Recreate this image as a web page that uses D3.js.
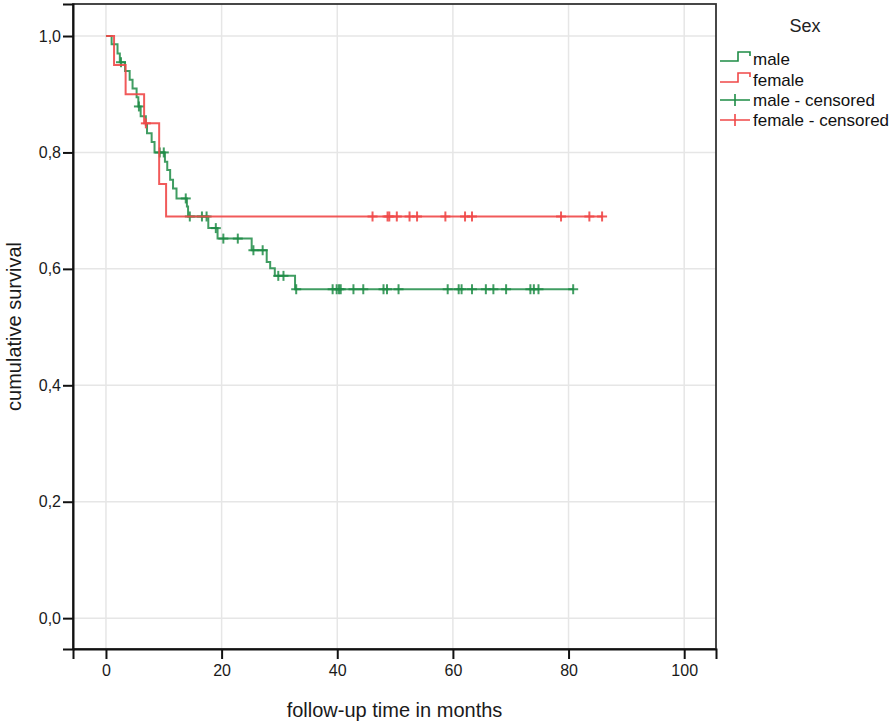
<!DOCTYPE html>
<html>
<head>
<meta charset="utf-8">
<script src="https://cdn.jsdelivr.net/npm/d3@7"></script>
<style>
  body { margin: 0; background: #fff; }
  svg { font-family: "Liberation Sans", Arial, sans-serif; }
</style>
</head>
<body>
<svg id="chart" width="894" height="724"></svg>
<script>
// Kaplan-Meier steps: time (months) and survival after each drop
const maleTimes = [0, 0.98, 2.0, 2.4, 3.3, 4.1, 4.6, 5.3, 5.6, 6.0, 6.9, 7.1, 7.9, 8.4,
  10.2, 10.6, 11.1, 11.6, 12.2, 14.0, 14.2, 17.7, 19.3, 25.2, 27.8, 28.4, 29.2, 32.7];
const maleSurv = [1, 0.986, 0.970, 0.955, 0.940, 0.925, 0.910, 0.895, 0.879, 0.862, 0.847, 0.833, 0.818, 0.800,
  0.784, 0.770, 0.753, 0.738, 0.721, 0.707, 0.690, 0.670, 0.652, 0.632, 0.612, 0.601, 0.588, 0.565];
const maleEnd = 80.8;
const maleCensored = [2.6, 5.7, 9.3, 10.0, 13.8, 14.5, 16.6, 17.4, 19.0, 20.3, 22.8, 25.5, 27.1,
  29.8, 30.7, 32.9, 39.2, 39.9, 40.3, 40.6, 42.8, 44.5, 48.0, 48.6, 50.6, 59.1, 61.0, 61.5,
  63.3, 65.7, 67.0, 69.2, 73.4, 74.0, 74.8, 80.8];

const femaleTimes = [0, 1.4, 3.4, 6.6, 9.2, 10.4];
const femaleSurv = [1, 0.95, 0.90, 0.85, 0.746, 0.690];
const femaleEnd = 85.8;
const femaleCensored = [6.9, 46.1, 48.7, 49.0, 50.3, 52.5, 53.8, 58.7, 62.1, 63.3, 78.7, 83.6, 85.8];

const xTicks = [0, 20, 40, 60, 80, 100];
const yTicks = [0, 0.2, 0.4, 0.6, 0.8, 1.0];
const legendLabels = ['male', 'female', 'male - censored', 'female - censored'];

const green = '#1e8c46';
const red = '#f04848';

const svg = d3.select('#chart');
const plot = { left: 73, right: 716, top: 4, bottom: 649 };

const xScale = d3.scaleLinear().domain([-5.7, 105.5]).range([plot.left, plot.right]);
const yScale = d3.scaleLinear().domain([-0.053, 1.055]).range([plot.bottom, plot.top]);

// gridlines
svg.append('g')
  .selectAll('line.vg')
  .data(xTicks)
  .join('line')
  .attr('x1', d => xScale(d)).attr('x2', d => xScale(d))
  .attr('y1', plot.top).attr('y2', plot.bottom)
  .attr('stroke', '#e6e6e6').attr('stroke-width', 1.5);
svg.append('g')
  .selectAll('line.hg')
  .data(yTicks)
  .join('line')
  .attr('x1', plot.left).attr('x2', plot.right)
  .attr('y1', d => yScale(d)).attr('y2', d => yScale(d))
  .attr('stroke', '#e6e6e6').attr('stroke-width', 1.5);

// frame
svg.append('rect')
  .attr('x', plot.left).attr('y', plot.top)
  .attr('width', plot.right - plot.left).attr('height', plot.bottom - plot.top)
  .attr('fill', 'none').attr('stroke', '#333').attr('stroke-width', 1.8);

const fmt = d => d3.format('.1f')(d).replace('.', ',');

const xAxis = svg.append('g')
  .attr('transform', `translate(0, ${plot.bottom})`)
  .call(d3.axisBottom(xScale).tickValues(xTicks).tickSize(10).tickPadding(6));
const yAxis = svg.append('g')
  .attr('transform', `translate(${plot.left}, 0)`)
  .call(d3.axisLeft(yScale).tickValues(yTicks).tickFormat(fmt).tickSize(10).tickPadding(2));

[xAxis, yAxis].forEach(ax => {
  ax.select('.domain').attr('stroke', '#111').attr('stroke-width', 2);
  ax.selectAll('.tick line').attr('stroke', '#111').attr('stroke-width', 2);
  ax.selectAll('.tick text')
    .attr('font-size', 16)
    .attr('font-family', '"Liberation Sans", Arial, sans-serif')
    .attr('fill', '#1a1a1a');
});

// axis titles
svg.append('text')
  .attr('x', (plot.left + plot.right) / 2).attr('y', 717)
  .attr('text-anchor', 'middle')
  .attr('font-size', 20).attr('fill', '#1a1a1a')
  .text('follow-up time in months');
svg.append('text')
  .attr('transform', `translate(21, ${(plot.top + plot.bottom) / 2}) rotate(-90)`)
  .attr('text-anchor', 'middle')
  .attr('font-size', 20).attr('fill', '#1a1a1a')
  .text('cumulative survival');

function stepPoints(times, surv, end) {
  const pts = times.map((t, i) => [t, surv[i]]);
  pts.push([end, surv[surv.length - 1]]);
  return pts;
}

function survAt(times, surv, t) {
  let s = surv[0];
  times.forEach((tt, i) => { if (tt <= t) s = surv[i]; });
  return s;
}

const line = d3.line()
  .x(d => xScale(d[0]))
  .y(d => yScale(d[1]))
  .curve(d3.curveStepAfter);

const series = [
  { times: maleTimes, surv: maleSurv, end: maleEnd, cens: maleCensored, color: green, opacity: 0.85 },
  { times: femaleTimes, surv: femaleSurv, end: femaleEnd, cens: femaleCensored, color: red, opacity: 0.9 }
];

series.forEach(s => {
  const g = svg.append('g');
  g.append('path')
    .attr('d', line(stepPoints(s.times, s.surv, s.end)))
    .attr('fill', 'none')
    .attr('stroke', s.color)
    .attr('stroke-width', 2)
    .attr('stroke-opacity', s.opacity);

  const cs = 5;
  const crosses = g.selectAll('g.cross')
    .data(s.cens)
    .join('g')
    .attr('transform', d => `translate(${xScale(d)}, ${yScale(survAt(s.times, s.surv, d))})`);
  crosses.append('line')
    .attr('x1', 0).attr('x2', 0).attr('y1', -cs).attr('y2', cs)
    .attr('stroke', s.color).attr('stroke-width', 2).attr('stroke-opacity', s.opacity);
  crosses.append('line')
    .attr('x1', -cs).attr('x2', cs).attr('y1', 0).attr('y2', 0)
    .attr('stroke', s.color).attr('stroke-width', 2).attr('stroke-opacity', s.opacity);
});

// legend
const legend = svg.append('g');
legend.append('text')
  .attr('x', 805).attr('y', 32)
  .attr('text-anchor', 'middle')
  .attr('font-size', 18).attr('fill', '#222')
  .text('Sex');

const legendColors = [green, red, green, red];
const legendY = [59, 80, 100, 120];
legendLabels.forEach((label, i) => {
  const y = legendY[i];
  const g = legend.append('g');
  if (i < 2) {
    g.append('path')
      .attr('d', `M720,${y + 2}H738V${y - 7}H750V${y - 3}`)
      .attr('fill', 'none')
      .attr('stroke', legendColors[i]).attr('stroke-width', 1.6);
  } else {
    g.append('path')
      .attr('d', `M720,${y}H750M735,${y - 6}V${y + 6}`)
      .attr('fill', 'none')
      .attr('stroke', legendColors[i]).attr('stroke-width', 1.6);
  }
  g.append('text')
    .attr('x', 753).attr('y', y + 6)
    .attr('font-size', 17).attr('fill', '#111')
    .text(label);
});
</script>
</body>
</html>
